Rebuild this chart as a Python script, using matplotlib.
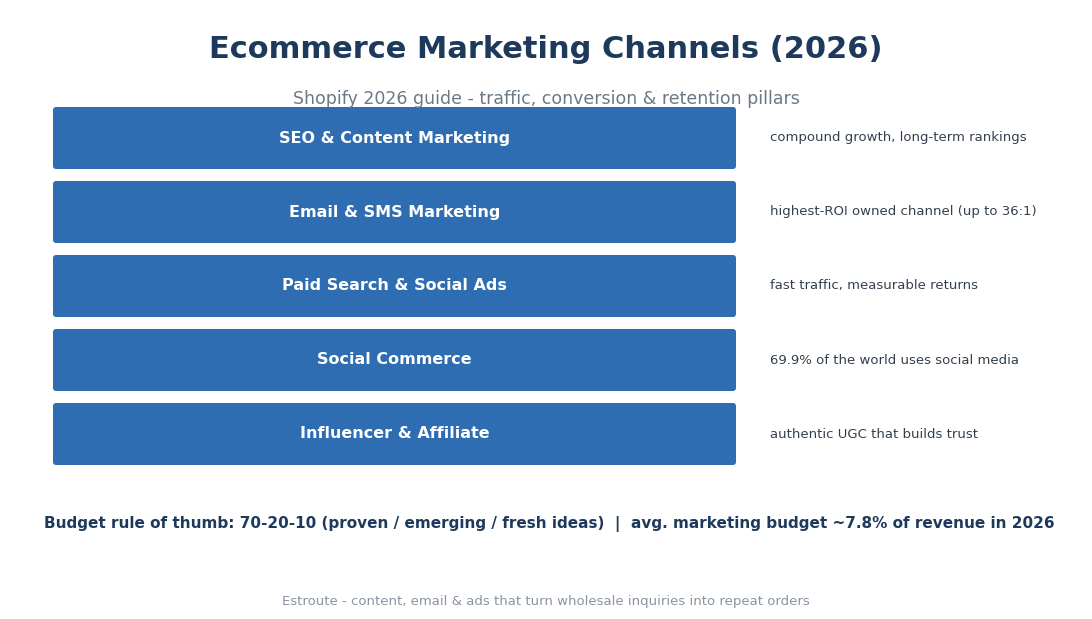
import matplotlib
matplotlib.use("Agg")
import matplotlib.pyplot as plt
from matplotlib.patches import FancyBboxPatch

channels = ["SEO & Content Marketing", "Email & SMS Marketing", "Paid Search & Social Ads",
            "Social Commerce", "Influencer & Affiliate"]
notes = ["compound growth, long-term rankings", "highest-ROI owned channel (up to 36:1)",
         "fast traffic, measurable returns", "69.9% of the world uses social media",
         "authentic UGC that builds trust"]
title = "Ecommerce Marketing Channels (2026)"
subtitle = "Shopify 2026 guide - traffic, conversion & retention pillars"
budget = "Budget rule of thumb: 70-20-10 (proven / emerging / fresh ideas)  |  avg. marketing budget ~7.8% of revenue in 2026"
footer = "Estroute - content, email & ads that turn wholesale inquiries into repeat orders"

fig = plt.figure(figsize=(10.92, 6.19), dpi=100)
ax = fig.add_axes([0, 0, 1, 1])
ax.set_xlim(0, 1092)
ax.set_ylim(619, 0)
ax.axis("off")

ax.text(546, 50, title, ha="center", va="center", fontsize=22, fontweight="bold", color="#1d3a5c")
ax.text(546, 99, subtitle, ha="center", va="center", fontsize=12.5, color="#6b7886")

top0, step, h = 107, 74, 62
for i, (c, n) in enumerate(zip(channels, notes)):
    y = top0 + i * step
    ax.add_patch(FancyBboxPatch((53, y), 683, h, boxstyle="round,pad=0,rounding_size=3",
                                fc="#2f6db3", ec="none"))
    ax.text(394.5, y + h / 2, c, ha="center", va="center", fontsize=11.5,
            fontweight="bold", color="white")
    ax.text(770, y + h / 2, n, ha="left", va="center", fontsize=9.5, color="#34404e")

ax.text(549, 524, budget, ha="center", va="center", fontsize=11, fontweight="bold", color="#1d3a5c")
ax.text(546, 601, footer, ha="center", va="center", fontsize=9.5, color="#8a94a2")

fig.savefig("out.png", dpi=100, facecolor="white")
